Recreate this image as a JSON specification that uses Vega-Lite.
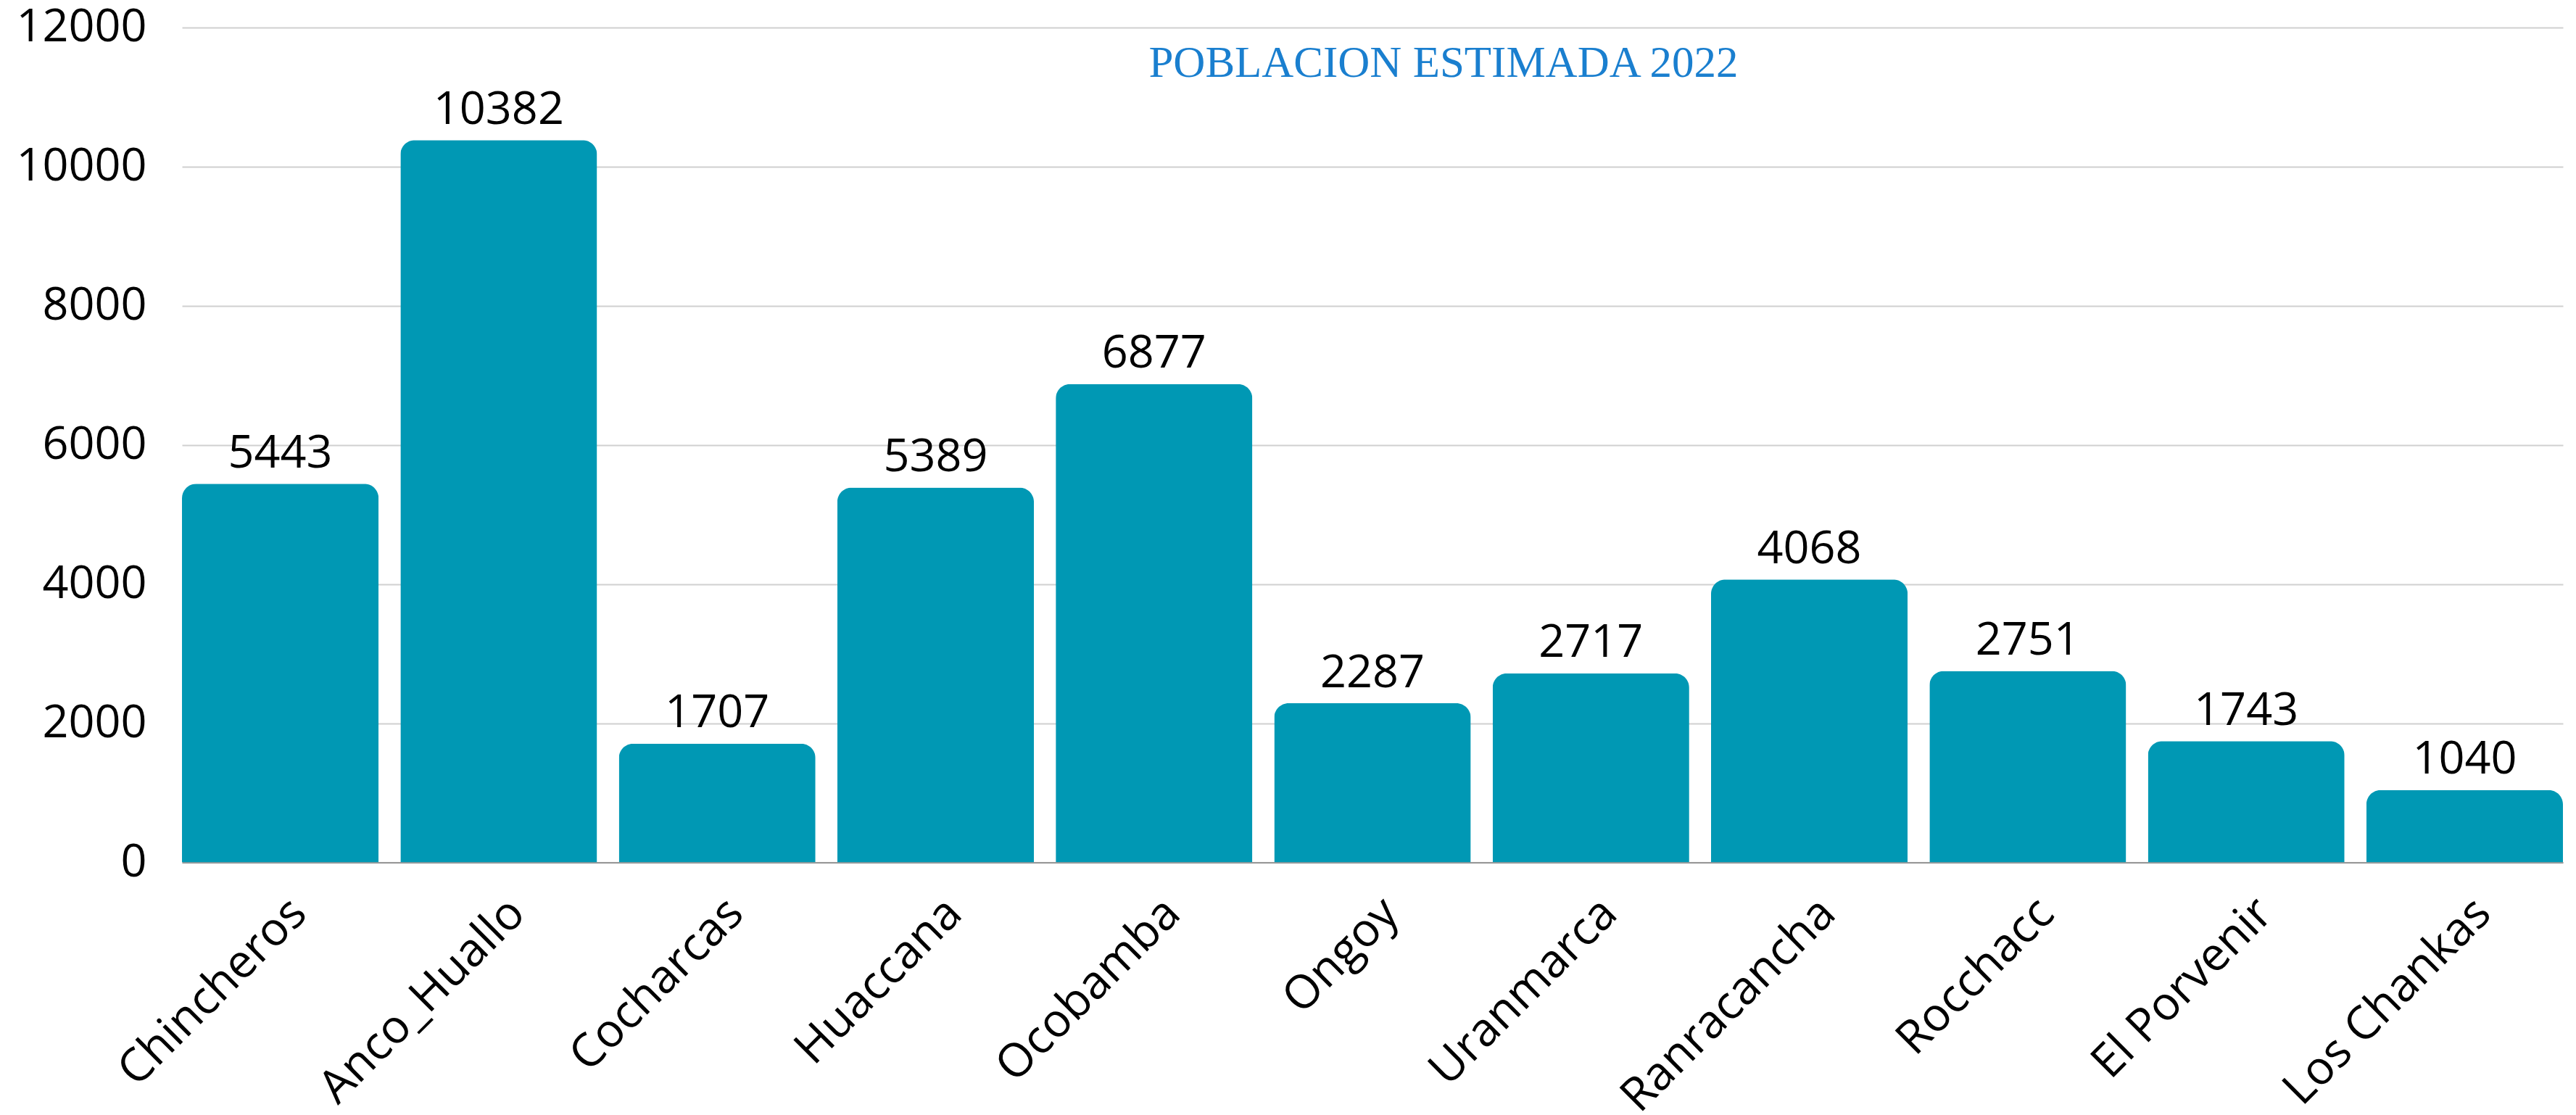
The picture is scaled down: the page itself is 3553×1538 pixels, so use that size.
{
  "$schema": "https://vega.github.io/schema/vega-lite/v6.json",
  "autosize": {"type": "none"},
  "padding": {"left": 251, "top": 38, "right": 18, "bottom": 348},
  "width": 3284,
  "height": 1151.6,
  "background": "white",
  "title": {
    "text": "POBLACION ESTIMADA 2022",
    "font": "Liberation Serif",
    "fontSize": 61,
    "fontWeight": "normal",
    "color": "#1a7fcf",
    "anchor": "middle",
    "frame": "group",
    "baseline": "alphabetic",
    "offset": 0,
    "limit": 0,
    "dx": 98,
    "dy": 160
  },
  "data": {
    "values": [
      {"distrito": "Chincheros", "poblacion": 5443},
      {"distrito": "Anco_Huallo", "poblacion": 10382},
      {"distrito": "Cocharcas", "poblacion": 1707},
      {"distrito": "Huaccana", "poblacion": 5389},
      {"distrito": "Ocobamba", "poblacion": 6877},
      {"distrito": "Ongoy", "poblacion": 2287},
      {"distrito": "Uranmarca", "poblacion": 2717},
      {"distrito": "Ranracancha", "poblacion": 4068},
      {"distrito": "Rocchacc", "poblacion": 2751},
      {"distrito": "El Porvenir", "poblacion": 1743},
      {"distrito": "Los Chankas", "poblacion": 1040}
    ]
  },
  "encoding": {
    "x": {
      "field": "distrito",
      "type": "nominal",
      "sort": null,
      "scale": {"paddingInner": 0.1, "paddingOuter": 0},
      "axis": {
        "title": null,
        "labelAngle": -45,
        "labelFont": "Open Sans",
        "labelFontSize": 64,
        "labelColor": "#000000",
        "labelAlign": "right",
        "labelBaseline": "middle",
        "labelPadding": 60,
        "labelOffset": 26,
        "labelLimit": 0,
        "ticks": false,
        "domain": true,
        "domainColor": "#9a9a9a",
        "domainWidth": 2,
        "grid": false
      }
    },
    "y": {
      "field": "poblacion",
      "type": "quantitative",
      "scale": {"domain": [0, 12000], "nice": false},
      "axis": {
        "title": null,
        "values": [0, 2000, 4000, 6000, 8000, 10000, 12000],
        "format": "d",
        "labelFont": "Open Sans",
        "labelFontSize": 63,
        "labelColor": "#000000",
        "labelPadding": 49,
        "labelLimit": 0,
        "ticks": false,
        "domain": false,
        "grid": true,
        "gridColor": "#d0d0d0",
        "gridWidth": 2
      }
    }
  },
  "layer": [
    {
      "mark": {
        "type": "bar",
        "color": "#0098b4",
        "cornerRadiusTopLeft": 20,
        "cornerRadiusTopRight": 20
      }
    },
    {
      "mark": {
        "type": "text",
        "baseline": "alphabetic",
        "dy": -22.6,
        "font": "Open Sans",
        "fontSize": 63,
        "color": "#000000"
      },
      "encoding": {
        "text": {"field": "poblacion", "type": "quantitative", "format": "d"}
      }
    }
  ],
  "config": {"view": {"stroke": null}}
}
